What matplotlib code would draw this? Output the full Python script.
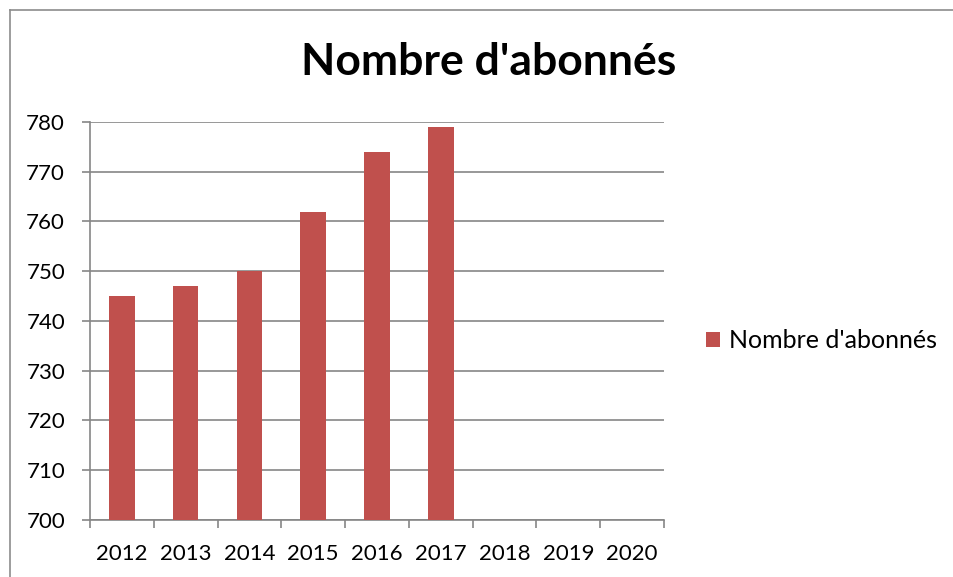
import matplotlib.pyplot as plt
from matplotlib.lines import Line2D

plt.rcParams['font.family'] = ['Lato', 'DejaVu Sans']

# data
years = ['2012', '2013', '2014', '2015', '2016', '2017', '2018', '2019', '2020']
abonnes = [745, 747, 750, 762, 774, 779, None, None, None]
y_ticks = [700, 710, 720, 730, 740, 750, 760, 770, 780]

bar_color = '#C0504D'
grid_color = '#868686'

W, H = 954, 577
fig = plt.figure(figsize=(W / 100, H / 100), dpi=100)

# outer chart frame (top and left visible, rest cut off)
fig.add_artist(Line2D([10 / W, 1], [1 - 10 / H, 1 - 10 / H], color='#8c8c8c', lw=1.2))
fig.add_artist(Line2D([10 / W, 10 / W], [0, 1 - 10 / H], color='#8c8c8c', lw=1.2))

ax = fig.add_axes([90 / W, 1 - 520 / H, (664 - 90) / W, (520 - 122) / H])

xs = list(range(len(years)))
heights = [v - 700 if v is not None else 0 for v in abonnes]
ax.bar(xs, heights, bottom=700, width=0.4, color=bar_color,
       label="Nombre d'abonnés", zorder=3)

ax.set_xlim(-0.5, len(years) - 0.5)
ax.set_ylim(700, 780)
ax.set_yticks(y_ticks)
ax.set_yticklabels([str(t) for t in y_ticks], fontsize=16)
ax.yaxis.grid(True, color=grid_color, lw=1.2, zorder=0)

ax.set_xticks(xs)
ax.set_xticklabels(years, fontsize=16)
ax.tick_params(axis='x', which='major', length=0, pad=17)
ax.set_xticks([x - 0.5 for x in range(len(years) + 1)], minor=True)
ax.tick_params(axis='x', which='minor', length=6, color=grid_color, width=1.2)
ax.tick_params(axis='y', length=6, color=grid_color, width=1.2, pad=12)

for side in ['top', 'right']:
    ax.spines[side].set_visible(False)
for side in ['left', 'bottom']:
    ax.spines[side].set_color(grid_color)
    ax.spines[side].set_linewidth(1.2)

fig.text(489 / W, 1 - 62 / H, "Nombre d'abonnés", ha='center', va='center',
         fontsize=32, fontweight='bold')

ax.legend(loc='center left', bbox_to_anchor=(689 / W, 1 - 341 / H),
          bbox_transform=fig.transFigure, frameon=False, fontsize=18,
          handlelength=0.55, handleheight=0.55, handletextpad=0.35,
          borderpad=0.2)

fig.savefig('out.png', dpi=100)
